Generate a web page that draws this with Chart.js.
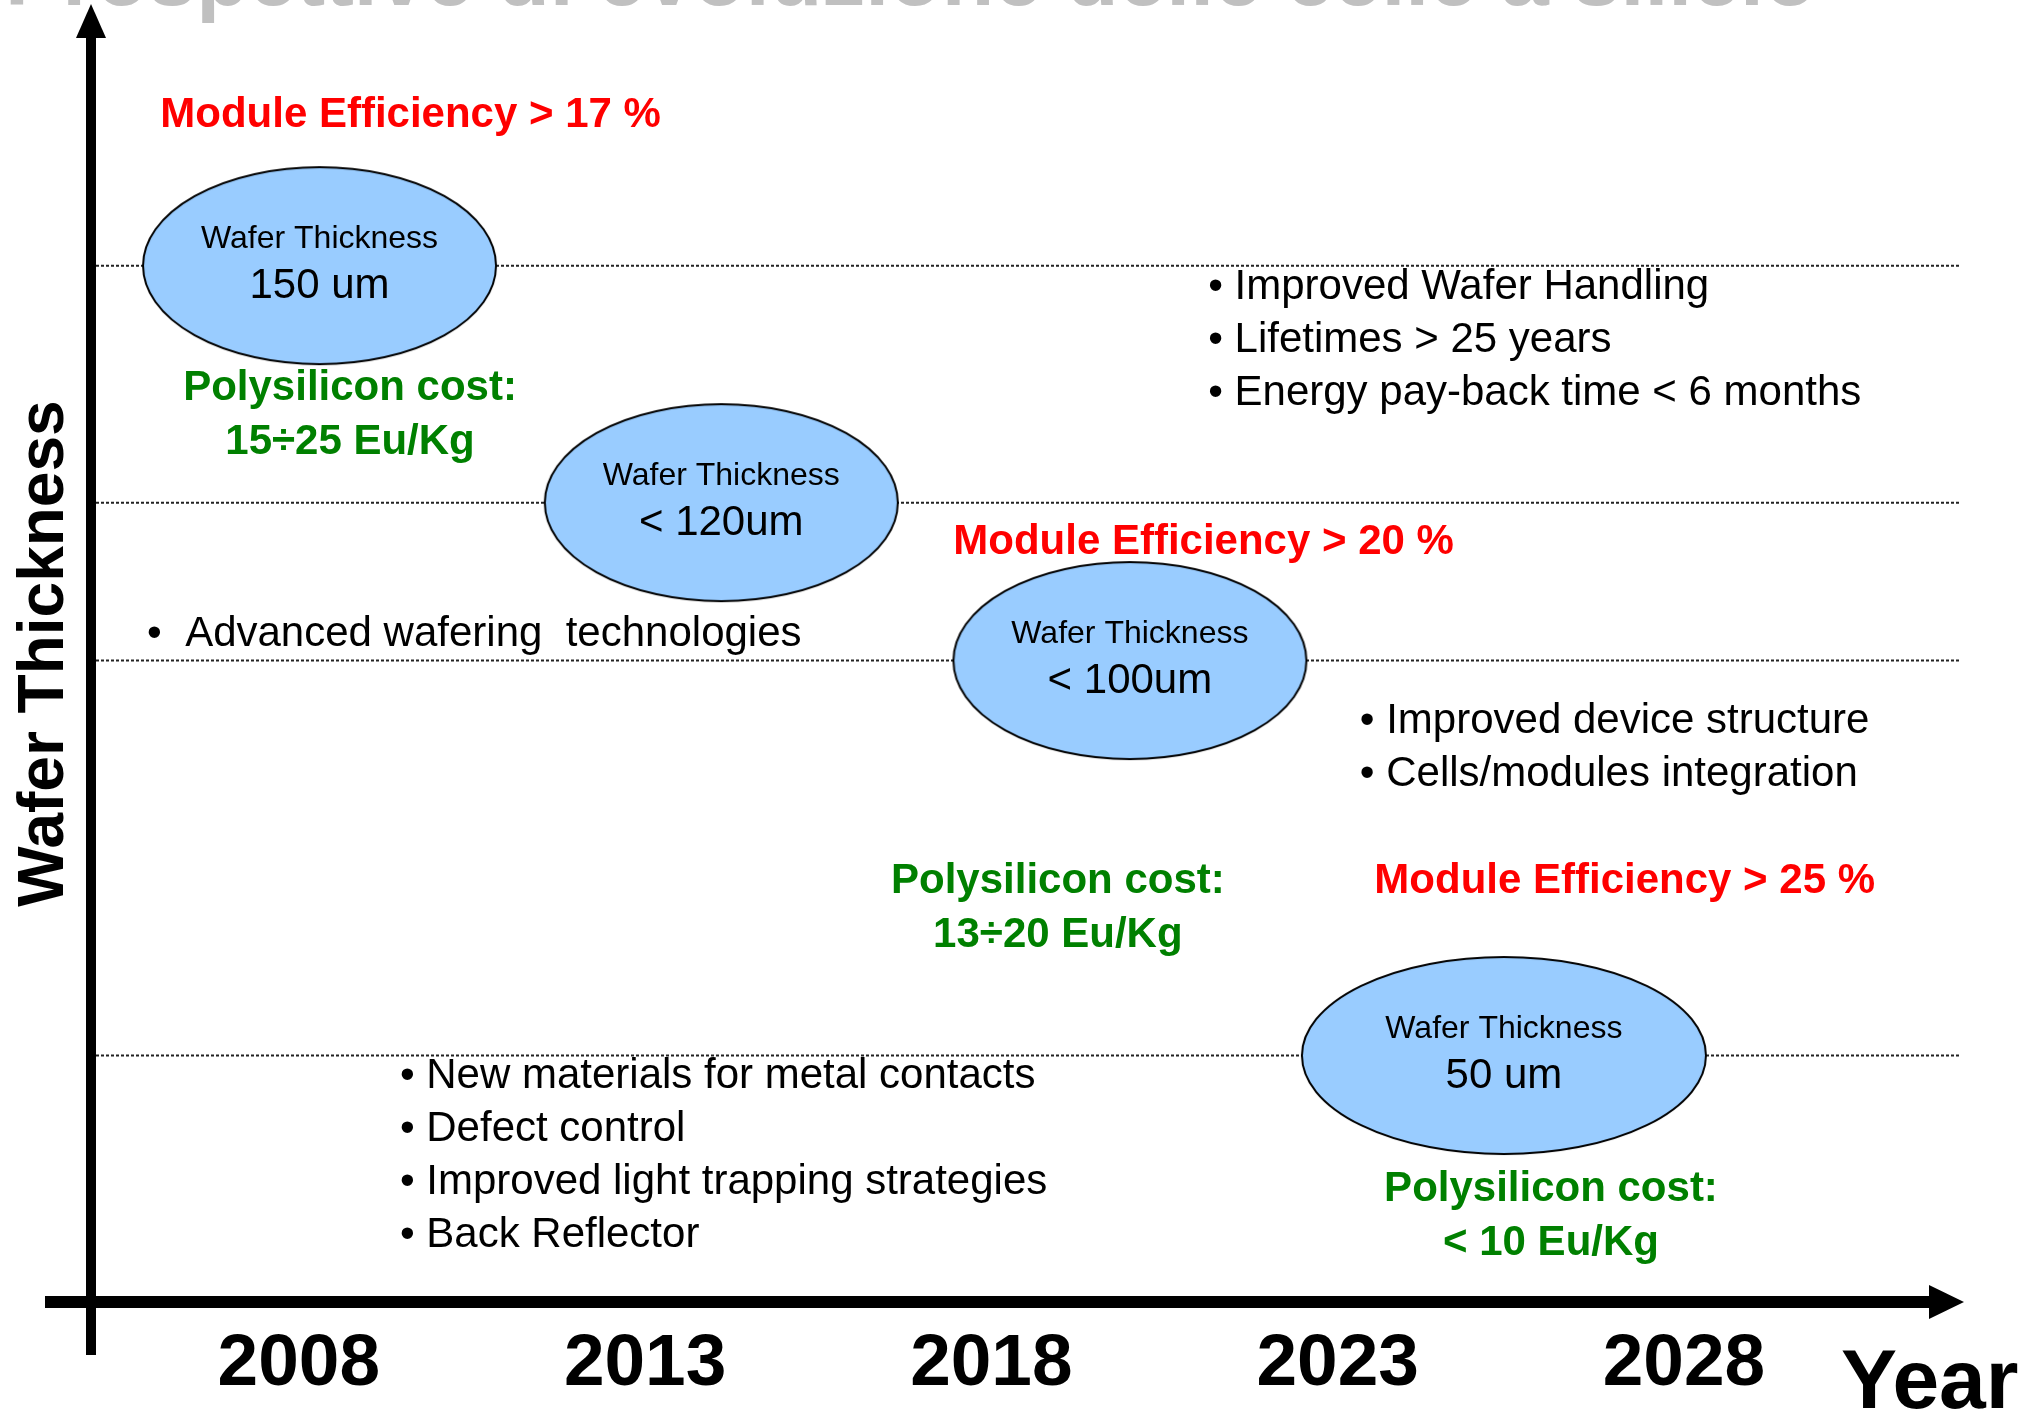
<!DOCTYPE html>
<html>
<head>
<meta charset="utf-8">
<title>Wafer Thickness roadmap</title>
<script src="https://cdn.jsdelivr.net/npm/chart.js@4.4.1/dist/chart.umd.min.js"></script>
<style>
  html, body { margin: 0; padding: 0; background: #fff; }
  canvas { display: block; }
</style>
</head>
<body>
<canvas id="roadmap" width="2037" height="1412"></canvas>
<script>
// roadmap stages: year reached and wafer thickness (um)
const stageYears = [2008.3, 2014.1, 2020.0, 2025.4]
const thickness = [150, 120, 100, 50]
const thicknessLabels = ['150 um', '< 120um', '< 100um', '50 um']
const tickYears = [2008, 2013, 2018, 2023, 2028]

const efficiency = ['> 17 %', '> 20 %', '> 25 %']
const polyCost = ['15÷25 Eu/Kg', '13÷20 Eu/Kg', '< 10 Eu/Kg']

const handlingNotes = ['Improved Wafer Handling', 'Lifetimes > 25 years', 'Energy pay-back time < 6 months']
const waferingNotes = [' Advanced wafering  technologies']
const deviceNotes = ['Improved device structure', 'Cells/modules integration']
const materialNotes = ['New materials for metal contacts', 'Defect control', 'Improved light trapping strategies', 'Back Reflector']

// where the text blocks sit, in (year, um)
const effAt = [[2006.0, 169.0], [2017.45, 115.0], [2023.53, 72.1]]
const costAt = [[2008.74, 134.5], [2018.96, 72.1], [2026.08, 33.0]]
const notesAt = [
  [handlingNotes, 2021.13, 147.2],
  [waferingNotes, 2005.81, 103.3],
  [deviceNotes, 2023.32, 92.3],
  [materialNotes, 2009.46, 47.3]
]
const ellipseSize = [[353, 197], [353, 197], [353, 197], [404, 197]]

const FONT = "'Liberation Sans', Arial, Helvetica, sans-serif"
const RED = '#ff0000'
const GREEN = '#008000'

function ellipseImg(w, h) {
  const c = document.createElement('canvas')
  c.width = w + 4
  c.height = h + 4
  const g = c.getContext('2d')
  g.beginPath()
  g.ellipse(c.width / 2, c.height / 2, w / 2, h / 2, 0, 0, Math.PI * 2)
  g.fillStyle = '#99ccff'
  g.fill()
  g.lineWidth = 2
  g.strokeStyle = '#000'
  g.stroke()
  return c
}

function put(ctx, str, x, y, size, weight, color, align) {
  ctx.font = weight + ' ' + size + 'px ' + FONT
  ctx.fillStyle = color
  ctx.textAlign = align || 'left'
  ctx.textBaseline = 'middle'
  ctx.fillText(str, x, y)
}

const decor = {
  id: 'decor',
  beforeDraw(chart) {
    const ctx = chart.ctx
    ctx.save()
    ctx.fillStyle = '#fff'
    ctx.fillRect(0, 0, chart.width, chart.height)
    // slide heading, mostly above the frame
    ctx.font = 'bold 86px ' + FONT
    ctx.fillStyle = '#c0c0c0'
    ctx.textAlign = 'left'
    ctx.textBaseline = 'alphabetic'
    ctx.fillText('Prospettive di evoluzione delle celle a silicio', 5, 5)
    ctx.restore()
  },
  afterDatasetsDraw(chart) {
    const ctx = chart.ctx
    const a = chart.chartArea
    const xs = chart.scales.x, ys = chart.scales.y
    ctx.save()

    // axes with arrow heads
    ctx.fillStyle = '#000'
    ctx.fillRect(45, a.bottom - 6, 1931 - 45, 12)
    ctx.beginPath()
    ctx.moveTo(1929, a.bottom - 17)
    ctx.lineTo(1964, a.bottom)
    ctx.lineTo(1929, a.bottom + 17)
    ctx.fill()
    ctx.fillRect(a.left - 5, a.top + 30, 10, 1355 - a.top - 30)
    ctx.beginPath()
    ctx.moveTo(a.left - 15, a.top + 33)
    ctx.lineTo(a.left, a.top - 1)
    ctx.lineTo(a.left + 15, a.top + 33)
    ctx.fill()

    // labels inside the ellipses
    stageYears.forEach((yr, i) => {
      const px = xs.getPixelForValue(yr)
      const py = ys.getPixelForValue(thickness[i])
      put(ctx, 'Wafer Thickness', px, py - 26, 32, 'normal', '#000', 'center')
      put(ctx, thicknessLabels[i], px, py + 21, 42, 'normal', '#000', 'center')
    })

    efficiency.forEach((e, i) => {
      put(ctx, 'Module Efficiency ' + e, xs.getPixelForValue(effAt[i][0]), ys.getPixelForValue(effAt[i][1]), 42, 'bold', RED)
    })
    polyCost.forEach((c, i) => {
      const px = xs.getPixelForValue(costAt[i][0])
      const py = ys.getPixelForValue(costAt[i][1])
      put(ctx, 'Polysilicon cost:', px, py, 42, 'bold', GREEN, 'center')
      put(ctx, c, px, py + 54, 42, 'bold', GREEN, 'center')
    })
    notesAt.forEach(([lines, yr, um]) => {
      const px = xs.getPixelForValue(yr)
      const py = ys.getPixelForValue(um)
      lines.forEach((t, k) => put(ctx, '• ' + t, px, py + k * 53, 42, 'normal', '#000'))
    })

    // axis titles
    ctx.font = 'bold 84px ' + FONT
    ctx.fillStyle = '#000'
    ctx.textAlign = 'left'
    ctx.textBaseline = 'alphabetic'
    ctx.fillText('Year', 1841, 1408)

    ctx.translate(63, (a.top + a.bottom) / 2)
    ctx.rotate(-Math.PI / 2)
    ctx.font = 'bold 64px ' + FONT
    ctx.textAlign = 'center'
    ctx.fillText('Wafer Thickness', 0, 0)
    ctx.restore()
  }
}

const levelSets = thickness.map(t => ({
  data: [{ x: 2005, y: t }, { x: 2032, y: t }],
  showLine: true,
  borderColor: '#222',
  borderWidth: 2,
  borderDash: [3, 2],
  pointRadius: 0
}))

const roadmap = new Chart(document.getElementById('roadmap'), {
  type: 'scatter',
  data: {
    datasets: [{
      data: stageYears.map((yr, i) => ({ x: yr, y: thickness[i] })),
      pointStyle: ellipseSize.map(s => ellipseImg(s[0], s[1])),
      pointRadius: 3
    }].concat(levelSets)
  },
  options: {
    responsive: false,
    animation: false,
    devicePixelRatio: 1,
    layout: { padding: { top: 4, left: 91, right: 76, bottom: 0 } },
    plugins: { legend: { display: false }, tooltip: { enabled: false } },
    scales: {
      x: {
        type: 'linear',
        min: 2005,
        max: 2032,
        afterBuildTicks: s => { s.ticks = tickYears.map(v => ({ value: v })) },
        afterFit: s => { s.height = 110 },
        grid: { display: false, drawTicks: false },
        border: { display: false },
        ticks: {
          autoSkip: false,
          maxRotation: 0,
          minRotation: 0,
          padding: 19,
          color: '#000',
          font: { family: FONT, size: 73, weight: 'bold' },
          callback: v => String(v)
        }
      },
      y: { type: 'linear', min: 18.8, max: 183, display: false }
    }
  },
  plugins: [decor]
})
</script>
</body>
</html>
